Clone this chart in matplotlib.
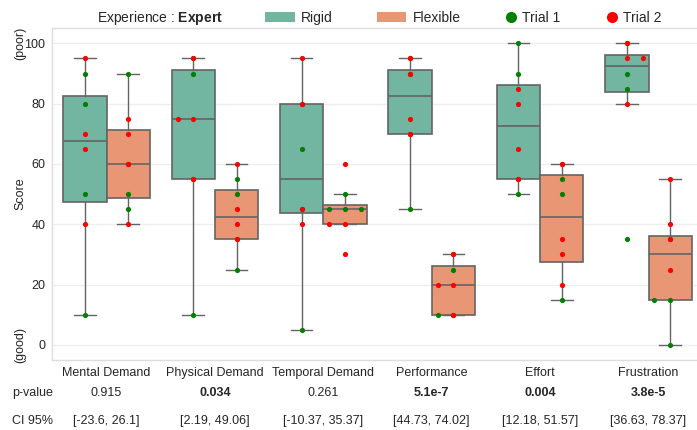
import matplotlib
matplotlib.use("Agg")
import matplotlib.pyplot as plt
import matplotlib.transforms as mtransforms
from matplotlib.patches import Patch
from matplotlib.lines import Line2D
import numpy as np

plt.rcParams['font.family'] = ['Liberation Sans', 'DejaVu Sans']
plt.rcParams['mathtext.fontset'] = 'custom'
plt.rcParams['mathtext.rm'] = 'Liberation Sans'
plt.rcParams['mathtext.bf'] = 'Liberation Sans:bold'

# ---------------- data ----------------
categories = ["Mental Demand", "Physical Demand", "Temporal Demand",
              "Performance", "Effort", "Frustration"]
groups = ["Rigid", "Flexible"]
trials = ["Trial 1", "Trial 2"]

rigid_trial1 = [[90, 80, 50, 10], [95, 90, 55, 10], [80, 65, 45, 5],
                [95, 90, 70, 45], [100, 90, 55, 50], [100, 90, 85, 35]]
rigid_trial2 = [[95, 70, 65, 40], [95, 75, 75, 55], [95, 80, 45, 40],
                [95, 90, 75, 70], [85, 80, 65, 55], [100, 95, 95, 80]]
flex_trial1 = [[90, 60, 50, 45], [55, 50, 35, 25], [50, 45, 45, 45],
               [30, 25, 10, 10], [60, 55, 50, 15], [35, 15, 15, 0]]
flex_trial2 = [[75, 70, 60, 40], [60, 45, 40, 35], [60, 40, 40, 30],
               [30, 20, 20, 10], [60, 35, 30, 20], [55, 40, 35, 25]]

p_values = ["0.915", "0.034", "0.261", "5.1e-7", "0.004", "3.8e-5"]
ci95 = ["[-23.6, 26.1]", "[2.19, 49.06]", "[-10.37, 35.37]",
        "[44.73, 74.02]", "[12.18, 51.57]", "[36.63, 78.37]"]
y_ticks = [0, 20, 40, 60, 80, 100]

# ---------------- style ----------------
group_colors = {"Rigid": "#72b6a1", "Flexible": "#e89674"}
trial_colors = {"Trial 1": "#008000", "Trial 2": "#ff0000"}
line_gray = "#646464"
text_col = "#262626"
box_w = 0.4
swarm_step = 0.145
swarm_first_right = {("Frustration", "Rigid")}

W, H = 697, 430
fig = plt.figure(figsize=(W / 100, H / 100), dpi=100)
ax = fig.add_axes([52.3 / W, 1 - 360 / H, (702.7 - 52.3) / W, (360 - 28.3) / H])

data = {("Rigid", "Trial 1"): rigid_trial1, ("Rigid", "Trial 2"): rigid_trial2,
        ("Flexible", "Trial 1"): flex_trial1, ("Flexible", "Trial 2"): flex_trial2}
offsets = {"Rigid": -0.2, "Flexible": 0.2}

# boxes
for g in groups:
    vals = [np.array(data[(g, "Trial 1")][i] + data[(g, "Trial 2")][i], dtype=float)
            for i in range(len(categories))]
    pos = [i + offsets[g] for i in range(len(categories))]
    ax.boxplot(vals, positions=pos, widths=box_w, patch_artist=True,
               showfliers=False, whis=1.5, manage_ticks=False,
               boxprops=dict(facecolor=group_colors[g], edgecolor=line_gray, linewidth=1.2),
               medianprops=dict(color=line_gray, linewidth=1.2),
               whiskerprops=dict(color=line_gray, linewidth=1.0),
               capprops=dict(color=line_gray, linewidth=1.0),
               capwidths=box_w / 2, zorder=2)

# swarm-like points
for t in trials:
    for g in groups:
        for i, cat in enumerate(categories):
            vals = data[(g, t)][i]
            xs, ys = [], []
            seen = {}
            sign = 1 if (cat, g) in swarm_first_right else -1
            for v in vals:
                k = seen.get(v, 0)
                seen[v] = k + 1
                if k == 0:
                    off = 0
                else:
                    m = (k + 1) // 2
                    off = m * (sign if k % 2 == 1 else -sign)
                xs.append(i + offsets[g] + off * swarm_step)
                ys.append(v)
            ax.scatter(xs, ys, s=14, color=trial_colors[t], linewidths=0, zorder=3)

ax.set_xlim(-0.5, len(categories) - 0.5)
ax.set_ylim(-5, 105)
ax.set_yticks(y_ticks)
ax.set_xticks(range(len(categories)))
ax.set_xticklabels(categories)
ax.tick_params(axis='both', length=0, labelsize=9, colors=text_col)
ax.tick_params(axis='x', pad=5)
ax.tick_params(axis='y', pad=5)
ax.yaxis.grid(True, color="#eeeeee", linewidth=0.9)
ax.set_axisbelow(True)
for s in ax.spines.values():
    s.set_color("#dddddd")
    s.set_linewidth(1.0)

# y labels
trY = mtransforms.blended_transform_factory(fig.transFigure, ax.transData)
ax.text(20 / W, 50, "Score", rotation=90, transform=trY, ha="center", va="center",
        fontsize=9, color=text_col)
ax.text(20 / W, 100, "(poor)", rotation=90, transform=trY, ha="center", va="center",
        fontsize=9, color=text_col)
ax.text(20 / W, 0, "(good)", rotation=90, transform=trY, ha="center", va="center",
        fontsize=9, color=text_col)

# p-value and CI rows
trX = mtransforms.blended_transform_factory(ax.transData, fig.transFigure)
fig.text(12 / W, 1 - 393 / H, "p-value", ha="left", va="center", fontsize=9, color=text_col)
fig.text(12 / W, 1 - 421 / H, "CI 95%", ha="left", va="center", fontsize=9, color=text_col)
for i, (p, ci) in enumerate(zip(p_values, ci95)):
    ax.text(i, 1 - 393 / H, p, transform=trX, ha="center", va="center", fontsize=9,
            color=text_col, fontweight="bold" if float(p) < 0.05 else "normal")
    ax.text(i, 1 - 421 / H, ci, transform=trX, ha="center", va="center", fontsize=9,
            color=text_col)

# legend
fig.text(97 / W, 1 - 18 / H, r"Experience : $\mathbf{Expert}$", ha="left", va="center",
         fontsize=10, color=text_col)
patch_handles = [Patch(facecolor=group_colors[g], edgecolor="none", label=g) for g in groups]
leg1 = fig.legend(handles=patch_handles, loc="center left",
                  bbox_to_anchor=(265 / W, 1 - 18 / H), ncol=2, frameon=False,
                  fontsize=10, handlelength=2.15, handleheight=0.75,
                  handletextpad=0.45, columnspacing=3.15, borderpad=0, borderaxespad=0,
                  labelcolor=text_col)
marker_handles = [Line2D([], [], linestyle="none", marker="o", markersize=8,
                         markerfacecolor=trial_colors[t], markeredgewidth=0, label=t)
                  for t in trials]
leg2 = fig.legend(handles=marker_handles, loc="center left",
                  bbox_to_anchor=(505.5 / W, 1 - 18 / H), ncol=2, frameon=False,
                  fontsize=10, handlelength=0.8, handletextpad=0.4,
                  columnspacing=3.3, borderpad=0, borderaxespad=0,
                  labelcolor=text_col)

fig.savefig("out.png", dpi=100)
